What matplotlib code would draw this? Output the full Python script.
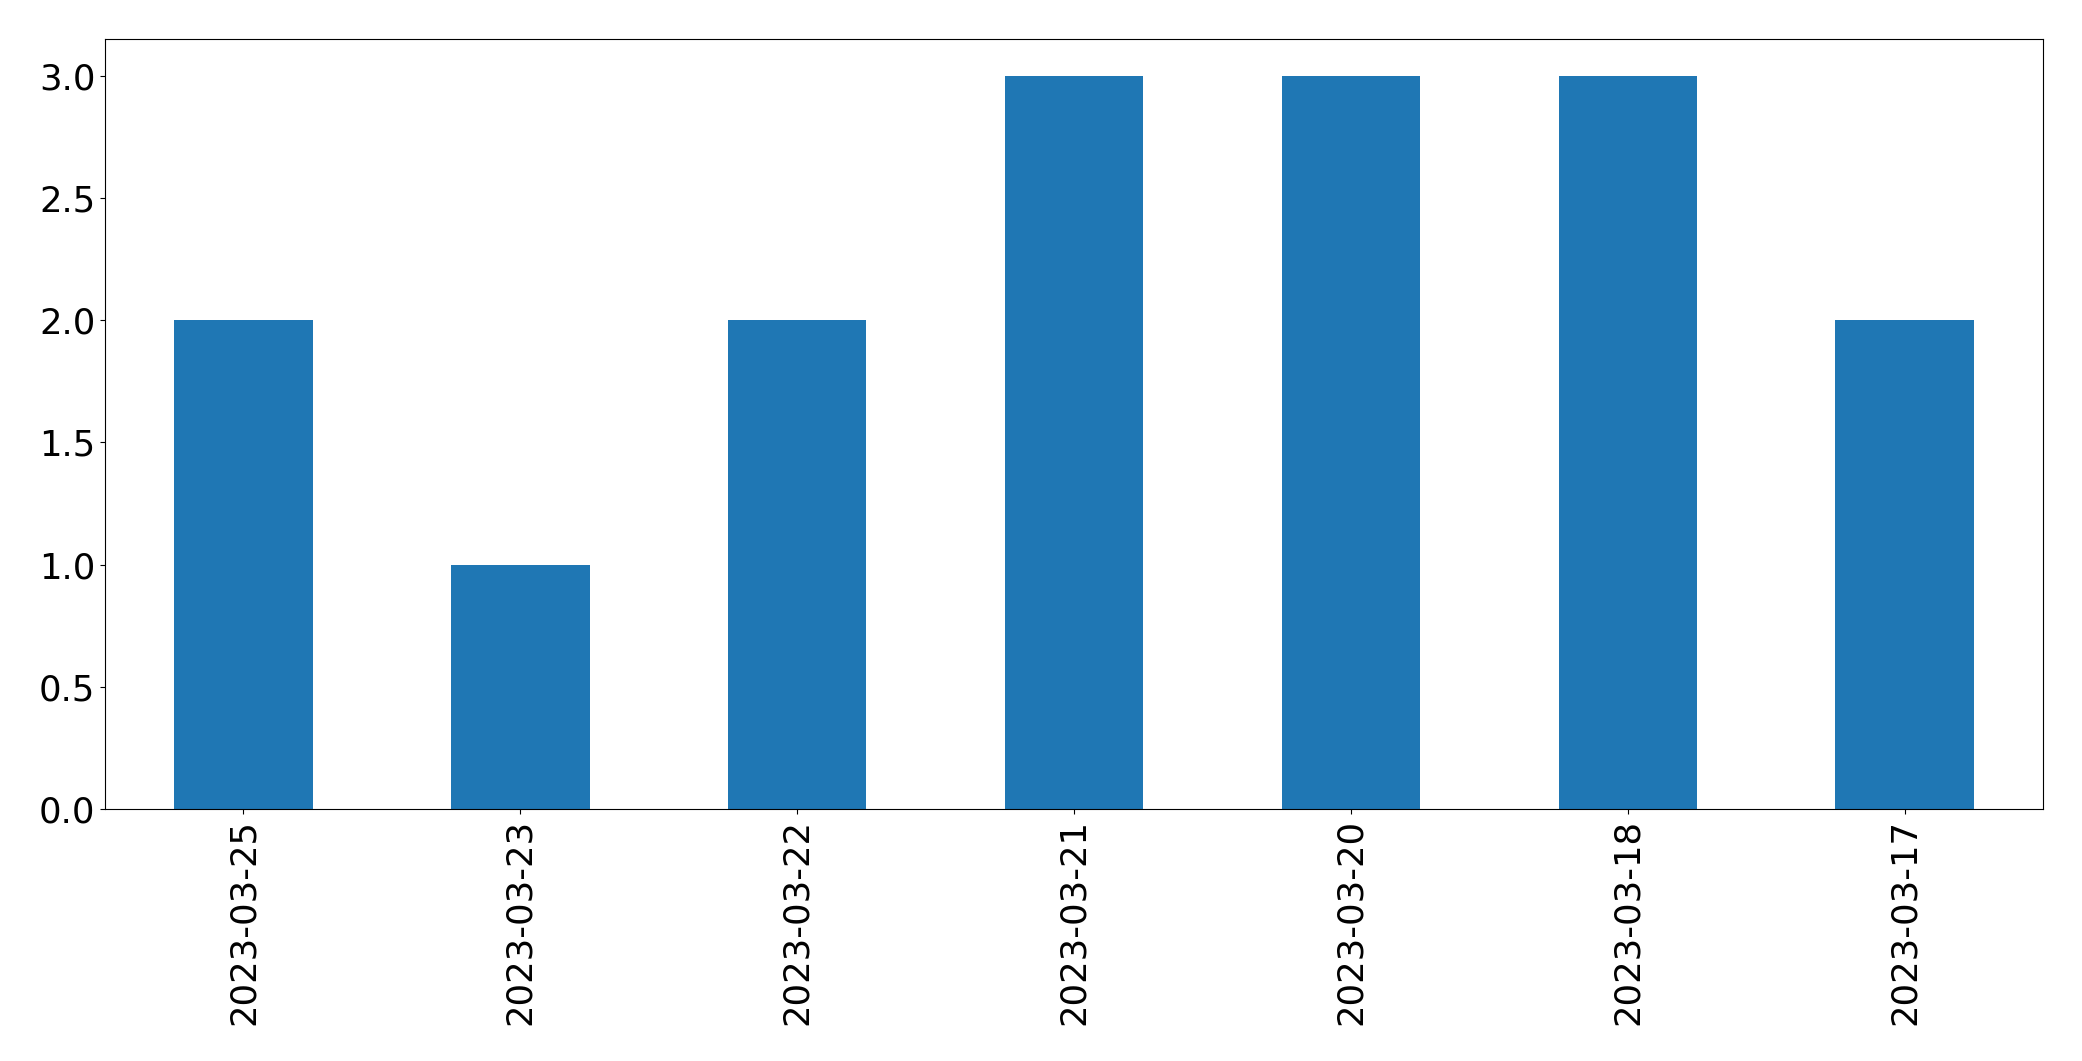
import matplotlib
matplotlib.use("Agg")
from matplotlib import pyplot as plt
import pandas as pd

dates = ["2023-03-25", "2023-03-23", "2023-03-22", "2023-03-21",
         "2023-03-20", "2023-03-18", "2023-03-17"]
counts = [2, 1, 2, 3, 3, 3, 2]

fontsize = 25.5

fig = plt.figure(figsize=(20.82, 10.61), dpi=100)
ax = fig.add_axes([105 / 2082, 1 - 809 / 1061, (2043 - 105) / 2082, (809 - 39) / 1061])

s = pd.Series(counts, index=dates)
s.plot(kind="bar", ax=ax, color="#1f77b4", width=0.5)

ax.tick_params(axis="both", labelsize=fontsize)
ax.set_xlabel("")

fig.savefig("out.png", dpi=100)
